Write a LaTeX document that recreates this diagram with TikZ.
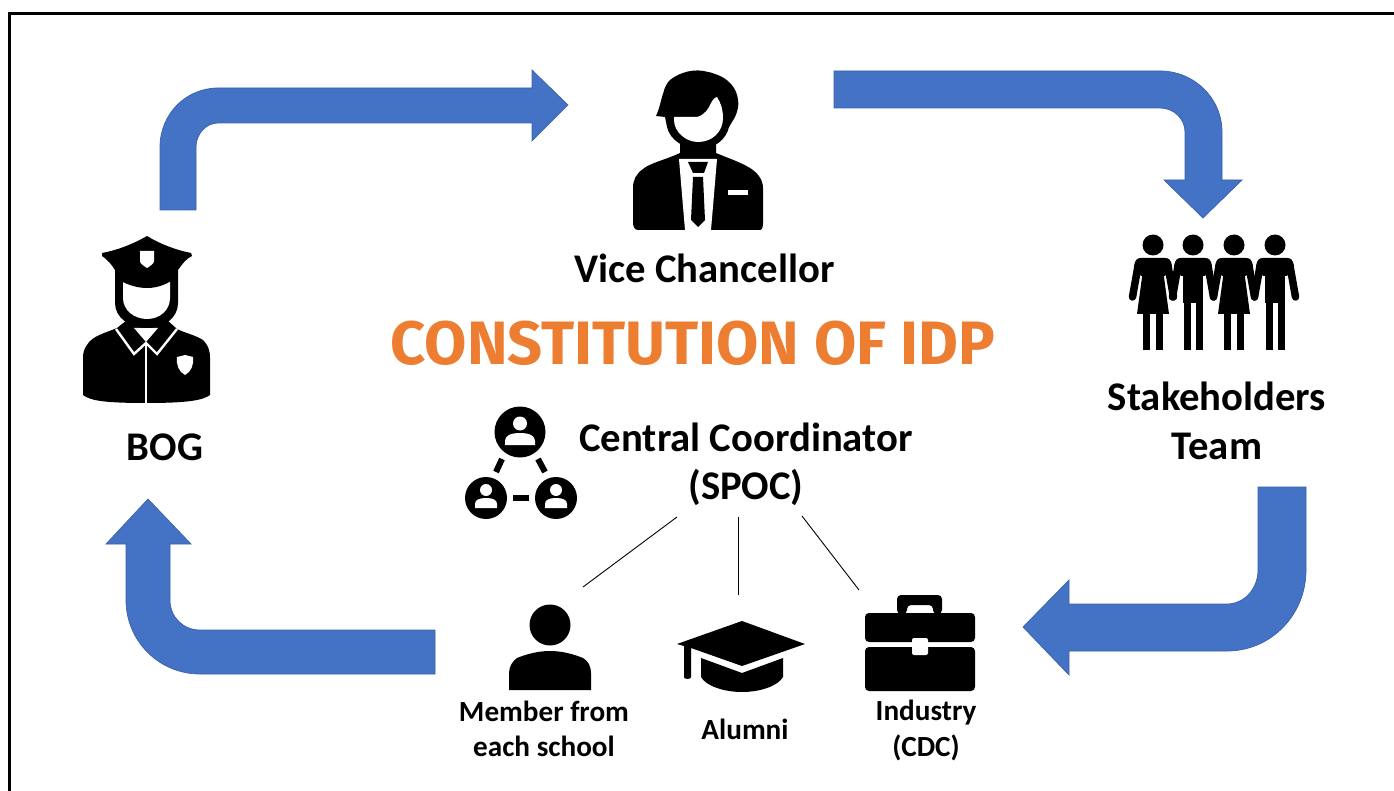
\documentclass[tikz,border=0pt]{standalone}
\usepackage{fontspec}
\setmainfont{Carlito}
\newfontfamily\titlefont{Fira Sans}
\definecolor{flowblue}{HTML}{4472C4}
\definecolor{flowedge}{HTML}{3A62AC}
\definecolor{idporange}{HTML}{ED7D31}
\tikzset{
  flowarrow/.style={fill=flowblue,draw=flowedge,line width=0.7pt,line join=miter},
  icon/.style={fill=black,draw=none},
  cutout/.style={fill=white,draw=none},
  biglabel/.style={font=\fontsize{40.7}{48.5}\selectfont\bfseries,align=center,text=black,inner sep=0pt},
  smalllabel/.style={font=\fontsize{29.2}{35.5}\selectfont\bfseries,align=center,text=black,inner sep=0pt},
  spoke/.style={draw=black,line width=0.9pt},
  limb/.style={draw=black,line width=7.5pt,line cap=round},
  dashlink/.style={draw=black,line width=6pt}
}
\begin{document}
\begin{tikzpicture}[x=1pt,y=-1pt]
\useasboundingbox (0,0) rectangle (1394,791);
\fill[white] (0,0) rectangle (1394,791);
\draw[black,line width=3pt] (9.5,791) -- (9.5,13.5) -- (1394,13.5);
% ---- block arrows
\path[flowarrow] (160,210) -- (160,147) .. controls (160,114) and (186,88) .. (218,88) -- (532,88) -- (532,70) -- (568,105) -- (532,141) -- (532,123) -- (218,123) .. controls (206,123) and (196,134) .. (196,147) -- (196,210) -- cycle;
\path[flowarrow] (834,71) -- (1160,71) .. controls (1194,71) and (1222,98) .. (1222,132) -- (1222,180) -- (1242,180) -- (1203,218) -- (1164,180) -- (1185,180) -- (1185,132) .. controls (1185,119) and (1174,108) .. (1160,108) -- (834,108) -- cycle;
\path[flowarrow] (1306,487) -- (1306,570) .. controls (1306,615) and (1271,651) .. (1227,651) -- (1069,651) -- (1069,675) -- (1023,627) -- (1069,580) -- (1069,604) -- (1227,604) .. controls (1244,604) and (1258,589) .. (1258,570) -- (1258,487) -- cycle;
\path[flowarrow] (435,674) -- (200,674) .. controls (159,674) and (126,641) .. (126,600) -- (126,544) -- (106,544) -- (148,499) -- (191,544) -- (170,544) -- (170,600) .. controls (170,617) and (183,630) .. (200,630) -- (435,630) -- cycle;
% ---- labels
\node[biglabel] (vc) at (704.5,268) {Vice Chancellor};
\node[biglabel] (bog) at (165,447) {BOG};
\node[biglabel] (stake) at (1217,421) {Stakeholders\\Team};
\node[biglabel] (spoc) at (746,464.5) {Central Coordinator\\(SPOC)};
\node[font=\titlefont\fontsize{61.3}{66}\selectfont\bfseries,text=idporange,inner sep=0pt] (title) at (693,343) {CONSTITUTION OF IDP};
\node[smalllabel] (member) at (544,729) {Member from\\each school};
\node[smalllabel] (alumni) at (745,729) {Alumni};
\node[smalllabel] (industry) at (926,730.5) {Industry\\(CDC)};
% ---- spokes
\coordinate (sl) at (677,517); \coordinate (sm) at (738,517); \coordinate (sr) at (802,516);
\coordinate (el) at (583,587); \coordinate (em) at (738,595); \coordinate (er) at (859,590);
\draw[spoke] (sl) -- (el);
\draw[spoke] (sm) -- (em);
\draw[spoke] (sr) -- (er);
% ---- officer
\path[icon] (127,320) -- (117,328) .. controls (105,333) and (92,336) .. (87,345) .. controls (84,349) and (83,353) .. (83,358) -- (83,395) .. controls (90,400) and (100,403) .. (146,403) .. controls (190,403) and (203,400) .. (210,395) -- (210,358) .. controls (210,350) and (208,345) .. (203,340) .. controls (195,335) and (185,333) .. (177,329) -- (167,320) -- cycle;
\draw[white,line width=2.4pt,line join=miter] (116,329) -- (134,354) -- (146,343) -- (157,354) -- (177,329);
\draw[white,line width=2.2pt] (146,344) -- (146,404);
\path[cutout] (134,328) -- (146,342) -- (158,328) -- cycle;
\path[cutout] (185,355) -- (193,357) .. controls (194,365) and (191,372) .. (185,375) .. controls (179,372) and (176,365) .. (177,357) -- cycle;
\path[icon] (115,270) -- (115,303) .. controls (115,318) and (130,328) .. (147,328) .. controls (164,328) and (178,318) .. (178,303) -- (178,270) -- cycle;
\path[cutout] (123,280) -- (123,298) .. controls (123,310) and (134,319) .. (147,319) .. controls (160,319) and (170,310) .. (170,298) -- (170,280) -- cycle;
\path[icon] (147,236) .. controls (160,244) and (176,250) .. (191,253) -- (192,256) .. controls (186,259) and (183,263) .. (178,270) -- (177,277) .. controls (168,284) and (158,288) .. (147,288) .. controls (136,288) and (124,284) .. (115,277) -- (115,270) .. controls (112,265) and (107,259) .. (102,256) -- (102,253) .. controls (118,250) and (133,244) .. (147,236) -- cycle;
\path[cutout] (140,251) -- (154,251) -- (154,261) .. controls (154,264) and (150,266) .. (147,268) .. controls (144,266) and (140,264) .. (140,261) -- cycle;
% ---- vice chancellor
\path[icon] (680,142) -- (680,153) .. controls (665,160) and (650,163) .. (643,169) .. controls (636,174) and (633,180) .. (633,188) -- (633,223) .. controls (633,227) and (635,230) .. (638,230) -- (760,230) .. controls (762,230) and (763,227) .. (763,223) -- (763,188) .. controls (763,180) and (758,173) .. (750,168) .. controls (740,162) and (728,158) .. (716,153) -- (716,142) -- cycle;
\path[cutout] (679,159) -- (717,159) -- (711,230) -- (685,230) -- cycle;
\path[icon] (688,162) -- (708,162) -- (704,173) -- (693,173) -- cycle;
\path[icon] (693,177) -- (703,177) -- (705,220) -- (698,227) -- (691,220) -- cycle;
\path[cutout] (728,190.5) rectangle (748,195);
\path[icon] (665,117) -- (667,127) .. controls (670,140) and (684,149) .. (699,149) .. controls (714,149) and (726,140) .. (729,127) -- (735,117) .. controls (738,110) and (739,105) .. (738,100) .. controls (737,88) and (728,78) .. (715,74) .. controls (712,72) and (710,73) .. (708,72) .. controls (695,68) and (680,72) .. (670,80) .. controls (664,86) and (664,92) .. (662,97) .. controls (660,105) and (658,112) .. (656,116) -- cycle;
\path[cutout] (674,117) .. controls (682,117) and (690,117) .. (697,117) .. controls (705,115) and (709,108) .. (711,103) .. controls (713,99) and (716,97) .. (717,97) .. controls (721,103) and (723,110) .. (723,118) .. controls (723,132) and (712,142) .. (698,142) .. controls (686,142) and (674,132) .. (674,120) -- cycle;
% ---- stakeholders
\foreach \cx in {1153,1193,1234,1275} {
  \path[icon] (\cx,245) circle[radius=10.5];
  \draw[limb] (\cx-15,266) -- (\cx-20.5,297);
  \draw[limb] (\cx+15,266) -- (\cx+20.5,297);
  \path[icon] (\cx-12,258) -- (\cx+12,258) .. controls (\cx+16,258) and (\cx+18,260) .. (\cx+19,266) -- (\cx+12,276) -- (\cx-12,276) -- (\cx-19,266) .. controls (\cx-18,260) and (\cx-16,258) .. (\cx-12,258) -- cycle;
}
\foreach \cx in {1153,1234} {
  \path[icon] (\cx-10,270) -- (\cx+10,270) -- (\cx+16,314) -- (\cx-16,314) -- cycle;
  \path[icon] (\cx-10,312) rectangle (\cx-3,350);
  \path[icon] (\cx+3,312) rectangle (\cx+10,350);
}
\foreach \cx in {1193,1275} {
  \path[icon] (\cx-10,270) rectangle (\cx+10,303);
  \path[icon] (\cx-9.5,300) rectangle (\cx-2.5,350);
  \path[icon] (\cx+2.5,300) rectangle (\cx+9.5,350);
}
% ---- network icon
\draw[dashlink] (502,459) -- (496,472);
\draw[dashlink] (538,459) -- (545,472);
\draw[dashlink] (513,498) -- (529,498);
\path[icon] (520,432) circle[radius=25.5];
\path[cutout] (520,423.5) circle[radius=7];
\path[cutout] (505,445) -- (535,445) -- (535,441) .. controls (535,436) and (530,433) .. (520,433) .. controls (510,433) and (505,436) .. (505,441) -- cycle;
\foreach \cx in {486,556} {
  \path[icon] (\cx,498) circle[radius=21];
  \path[cutout] (\cx,490) circle[radius=6];
  \path[cutout] (\cx-11,508) -- (\cx+11,508) -- (\cx+11,504) .. controls (\cx+11,500) and (\cx+7,498) .. (\cx,498) .. controls (\cx-7,498) and (\cx-11,500) .. (\cx-11,504) -- cycle;
}
% ---- member icon
\path[icon] (550,625) circle[radius=20.5];
\path[icon] (509,690) -- (509,673) .. controls (509,666) and (513,661) .. (517,658) .. controls (527,654) and (538,651) .. (550,651) .. controls (562,651) and (573,654) .. (583,658) .. controls (588,661) and (591,666) .. (591,673) -- (591,690) -- cycle;
% ---- graduation cap
\path[icon] (742,621) -- (805,644) -- (742,666) -- (691,648) -- (691,677) .. controls (691,678) and (690,679) .. (687.5,679) .. controls (685,679) and (684,678) .. (684,677) -- (684,646) -- (677,644) -- cycle;
\path[icon] (701,658) -- (742,673) -- (783,658) -- (783,677) .. controls (778,686) and (760,692) .. (742,692) .. controls (724,692) and (706,686) .. (701,677) -- cycle;
% ---- briefcase
\path[icon,rounded corners=4pt] (865,642) -- (865,613) -- (975,613) -- (975,642) -- cycle;
\path[icon,rounded corners=4pt] (865,647) -- (975,647) -- (975,691) -- (865,691) -- cycle;
\path[icon,rounded corners=4pt] (897,614) -- (897,595) -- (942,595) -- (942,614) -- (933,614) -- (933,605) -- (907,605) -- (907,614) -- cycle;
\path[cutout,rounded corners=2pt] (912,638) -- (928,638) -- (928,655) -- (912,655) -- cycle;
\end{tikzpicture}
\end{document}
